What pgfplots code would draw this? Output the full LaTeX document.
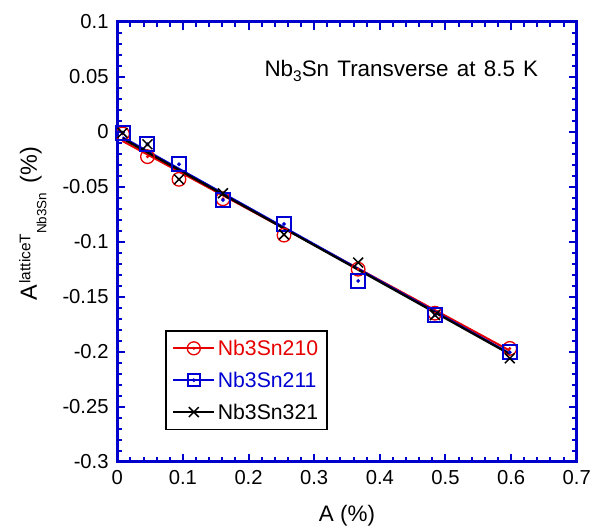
\documentclass[border=0pt]{standalone}
\usepackage{pgfplots}
\pgfplotsset{compat=1.18}
\usepackage{fontspec}
\setmainfont{Liberation Sans}

\definecolor{frameblue}{RGB}{0,0,205}
\definecolor{serred}{RGB}{230,0,0}
\definecolor{serblue}{RGB}{0,0,210}

% open marks with a small dot in the middle
\pgfdeclareplotmark{dotcircle}{%
  \pgfpathcircle{\pgfpointorigin}{\pgfplotmarksize}\pgfusepathqstroke
  \pgfpathcircle{\pgfpointorigin}{0.7bp}\pgfusepathqfillstroke}
\pgfdeclareplotmark{dotsquare}{%
  \pgfpathrectangle{\pgfpoint{-\pgfplotmarksize}{-\pgfplotmarksize}}{\pgfpoint{2\pgfplotmarksize}{2\pgfplotmarksize}}\pgfusepathqstroke
  \pgfpathcircle{\pgfpointorigin}{0.7bp}\pgfusepathqfillstroke}

\begin{document}
\begin{tikzpicture}
\begin{axis}[
  scale only axis, width=459.4bp, height=440bp,
  xmin=0, xmax=0.7, ymin=-0.3, ymax=0.1,
  xtick={0,0.1,0.2,0.3,0.4,0.5,0.6,0.7},
  xticklabels={0,0.1,0.2,0.3,0.4,0.5,0.6,0.7},
  ytick={-0.3,-0.25,-0.2,-0.15,-0.1,-0.05,0,0.05,0.1},
  yticklabels={-0.3,-0.25,-0.2,-0.15,-0.1,-0.05,0,0.05,0.1},
  minor x tick num=4, minor y tick num=4,
  tick align=inside,
  major tick length=8bp, minor tick length=5bp,
  every tick/.style={frameblue, line width=2bp},
  axis line style={frameblue, line width=2.5bp},
  font=\fontsize{20.3}{24}\selectfont,
  xticklabel style={anchor=base, yshift=-23.3bp},
  yticklabel style={anchor=east, inner xsep=0bp, xshift=-8.5bp},
  xlabel={A (\%)},
  xlabel style={at={(rel axis cs:0.5,0)}, anchor=base, yshift=-60bp, font=\fontsize{22.5}{26}\selectfont},
  ylabel={A\hspace{1.5bp}\raisebox{6.5bp}{\fontsize{15.5}{16}\selectfont latticeT}\raisebox{-9.5bp}{\fontsize{13.5}{14}\selectfont Nb3Sn}\hspace{3bp} (\%)},
  ylabel style={at={(axis description cs:-0.1748,0.541)}, anchor=base, font=\fontsize{23.5}{26}\selectfont},
  legend style={at={(rel axis cs:0.104,0.299)}, anchor=north west,
    draw=black, line width=1.5bp, inner xsep=6.5bp, inner ysep=6bp,
    row sep=9bp, font=\fontsize{21.3}{24}\selectfont,
    nodes={inner xsep=2.5bp, inner ysep=3bp}},
  legend cell align=left,
  legend image code/.code={\draw[mark repeat=2, mark phase=2, #1]
    plot coordinates {(0bp,0bp) (20.5bp,0bp) (41bp,0bp)};},
]
% fitted lines
\addplot[serred, line width=2bp, forget plot] coordinates {(0.008,-0.0085) (0.598,-0.199)};
\addplot[serblue, line width=2bp, forget plot] coordinates {(0.008,-0.005) (0.598,-0.2015)};
\addplot[black, line width=2.2bp, forget plot] coordinates {(0.008,-0.0062) (0.598,-0.2022)};
% measured points
\addplot[serred, only marks, mark=dotcircle, mark size=6.8bp, line width=1.3bp, fill=serred, forget plot] coordinates {
  (0.008,-0.002) (0.046,-0.0227) (0.094,-0.0433) (0.161,-0.061)
  (0.254,-0.094) (0.367,-0.125) (0.484,-0.165) (0.598,-0.197)};
\addplot[serblue, only marks, mark=dotsquare, mark size=7bp, line width=2bp, fill=serblue, forget plot] coordinates {
  (0.008,-0.001) (0.046,-0.0115) (0.094,-0.0296) (0.161,-0.0621)
  (0.254,-0.084) (0.367,-0.1357) (0.484,-0.1667) (0.598,-0.2006)};
\addplot[black, only marks, mark=x, mark size=7bp, line width=1.5bp, forget plot] coordinates {
  (0.008,-0.001) (0.046,-0.0115) (0.094,-0.0433) (0.161,-0.056)
  (0.254,-0.0935) (0.367,-0.119) (0.484,-0.1667) (0.598,-0.206)};
\addlegendimage{serred, line width=2bp, mark=dotcircle, mark size=6.5bp, mark options={line width=1.3bp, fill=serred}}
\addlegendentry{\textcolor{serred}{Nb3Sn210}}
\addlegendimage{serblue, line width=2bp, mark=dotsquare, mark size=6bp, mark options={line width=2bp, fill=serblue}}
\addlegendentry{\textcolor{serblue}{Nb3Sn211}}
\addlegendimage{black, line width=2bp, mark=x, mark size=7bp, mark options={line width=1.5bp}}
\addlegendentry{Nb3Sn321}
\node[anchor=base west, inner sep=0pt, font=\fontsize{22.5}{26}\selectfont]
  at (axis cs:0.224,0.0506) {Nb\raisebox{-5.7bp}{\fontsize{15.5}{16}\selectfont 3}Sn\hspace{2bp} Transverse\hspace{2bp} at\hspace{2bp} 8.5\hspace{2bp} K};
\end{axis}
\pgfresetboundingbox
\path ([shift={(-117.3bp,-65.3bp)}]current axis.south west) rectangle ([shift={(26.3bp,21.7bp)}]current axis.north east);
\end{tikzpicture}
\end{document}
